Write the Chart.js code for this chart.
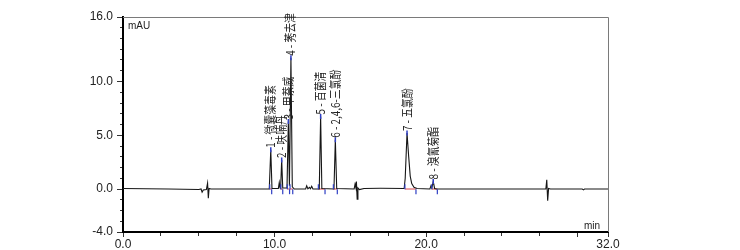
<!DOCTYPE html>
<html>
<head>
<meta charset="utf-8">
<script src="https://cdn.jsdelivr.net/npm/chart.js@4"></script>
<style>
html,body{margin:0;padding:0;background:#fff;}
#wrap{width:740px;height:250px;position:relative;}
</style>
</head>
<body>
<div id="wrap"><canvas id="c" width="740" height="250"></canvas></div>
<script>
// ---- chromatogram trace (time in min, signal in mAU) ----
const traceTimes = [0, 3.0, 5.0, 5.15, 5.22, 5.3, 5.5, 5.58, 5.63, 5.68, 5.8,
  9.65, 9.75, 9.83, 10.25, 10.31, 10.36, 10.4, 10.47, 10.54, 10.82, 10.91, 10.98, 11.0, 11.08, 11.17, 11.3,
  12.05, 12.12, 12.2, 12.3, 12.37, 12.45, 12.53, 12.95, 13.04, 13.12, 13.92, 14.01, 14.1,
  15.25, 15.31, 15.35, 15.4, 15.45, 15.5, 15.6, 15.9, 17.0,
  18.55, 18.62, 18.74, 18.85, 18.95, 19.05, 19.2, 19.4,
  20.25, 20.32, 20.38, 20.47, 20.56, 20.7,
  27.9, 27.96, 28.02, 28.08, 28.2, 30.3, 30.38, 30.45, 32];
const traceValues = [0.05, 0.0, -0.05, 0.0, -0.3, -0.1, -0.05, 0.55, -0.85, 0.05, 0.0,
  0.0, 3.65, 0.05, 0.05, 0.6, 0.1, 0.05, 2.7, 0.1, 0.1, 6.28, 0.3, 0.3, 12.2, 0.2, 0.0,
  0.0, 0.3, 0.02, 0.15, 0.02, 0.25, 0.0, 0.0, 6.75, 0.05, 0.0, 4.58, 0.05,
  0.0, 0.45, 0.2, 0.7, -0.95, 0.1, -0.05, 0.05, 0.07,
  0.05, 1.0, 5.2, 3.0, 1.2, 0.5, 0.15, 0.05,
  0.0, 0.3, 0.1, 0.7, 0.05, 0.0,
  0.0, 0.85, -1.08, 0.05, 0.0, 0.0, -0.08, 0.0, 0.0];

// ---- identified peaks ----
const peakNumbers = [1, 2, 3, 4, 5, 6, 7, 8];
const peakNames = ["微囊藻毒素", "呋喃丹", "甲萘威", "莠去津", "百菌清", "2,4,6-三氯酚", "五氯酚", "溴氰菊酯"];
const peakTimes = [9.75, 10.47, 10.91, 11.08, 13.04, 14.01, 18.74, 20.47];
const peakHeights = [3.65, 2.7, 6.28, 12.2, 6.75, 4.58, 5.2, 0.7];
const peakStarts = [9.68, 10.41, 10.84, 11.02, 12.89, 13.88, 18.6, 20.37];
const peakEnds = [9.81, 10.54, 10.99, 11.2, 13.33, 14.14, 19.33, 20.74];

// ---- axes ----
const xTickValues = [0, 2.5, 5, 7.5, 10, 12.5, 15, 17.5, 20, 22.5, 25, 27.5, 30, 32];
const xLabelValues = [0, 10, 20, 32];
const xMajorValues = [0, 10, 20, 30, 32];
const yTickValues = [-4, -3, -2, -1, 0, 1, 2, 3, 4, 5, 6, 7, 8, 9, 10, 11, 12, 13, 14, 15, 16];
const yLabelValues = [-4, 0, 5, 10, 16];
const yUnit = "mAU";
const xUnit = "min";

const traceData = traceTimes.map((t, i) => ({x: t, y: traceValues[i]}));
const apexData = peakTimes.map((t, i) => ({x: t, y: peakHeights[i]}));
const startData = peakStarts.map(t => ({x: t, y: 0.2}));
const endData = peakEnds.map(t => ({x: t, y: -0.25}));
const baseData = [];
peakStarts.forEach((t, i) => { baseData.push({x: t, y: 0}); baseData.push({x: peakEnds[i], y: 0}); baseData.push({x: peakEnds[i] + 0.001, y: null}); });

const BLUE = '#2f3fc4';
const RED = '#d8474a';

const framePlugin = {
  id: 'frame',
  beforeDatasetsDraw(chart) {
    const {ctx, chartArea: a} = chart;
    ctx.save();
    ctx.strokeStyle = '#7a7a7a';
    ctx.lineWidth = 1;
    ctx.beginPath();
    ctx.moveTo(a.left, a.top + 0.5);
    ctx.lineTo(a.right + 0.5, a.top + 0.5);
    ctx.lineTo(a.right + 0.5, a.bottom);
    ctx.stroke();
    ctx.fillStyle = '#222';
    ctx.font = '10px "Liberation Sans", Arial, sans-serif';
    ctx.textBaseline = 'middle';
    ctx.textAlign = 'left';
    ctx.fillText(yUnit, a.left + 5, a.top + 9);
    ctx.textAlign = 'right';
    ctx.fillText(xUnit, a.right - 8, a.bottom - 6);
    ctx.restore();
  }
};

const labelPlugin = {
  id: 'peakLabels',
  afterDatasetsDraw(chart) {
    const {ctx} = chart;
    const xs = chart.scales.x, ys = chart.scales.y;
    ctx.save();
    ctx.fillStyle = '#222';
    ctx.font = '12px "Noto Sans CJK SC", sans-serif';
    ctx.textBaseline = 'middle';
    ctx.textAlign = 'left';
    peakNumbers.forEach((n, i) => {
      const px = xs.getPixelForValue(peakTimes[i]);
      const py = ys.getPixelForValue(peakHeights[i]) - 2;
      ctx.save();
      ctx.translate(px, py);
      ctx.rotate(-Math.PI / 2);
      ctx.scale(0.82, 1);
      ctx.fillText(n + ' - ' + peakNames[i], 0, 0);
      ctx.restore();
    });
    ctx.restore();
  }
};

new Chart(document.getElementById('c'), {
  type: 'line',
  data: {
    datasets: [
      {data: baseData, borderColor: RED, borderWidth: 1, pointRadius: 0, spanGaps: false, order: 3},
      {data: traceData, borderColor: '#161616', borderWidth: 1.1, pointRadius: 0, tension: 0, order: 2},
      {data: apexData, showLine: false, pointStyle: 'line', rotation: 90, pointRadius: 2.5, borderColor: BLUE, borderWidth: 1.5, order: 1},
      {data: startData, showLine: false, pointStyle: 'line', rotation: 90, pointRadius: 2.5, borderColor: BLUE, borderWidth: 1.2, order: 1},
      {data: endData, showLine: false, pointStyle: 'line', rotation: 90, pointRadius: 2.5, borderColor: BLUE, borderWidth: 1.2, order: 1}
    ]
  },
  options: {
    responsive: false,
    animation: false,
    events: [],
    layout: {padding: {left: 0, top: 17, right: 132, bottom: 0}},
    plugins: {legend: {display: false}, tooltip: {enabled: false}},
    scales: {
      x: {
        type: 'linear', min: 0, max: 32, position: 'bottom',
        afterBuildTicks: s => { s.ticks = xTickValues.map(v => ({value: v})); },
        afterFit: s => { s.height = 18; },
        ticks: {
          autoSkip: false, maxRotation: 0, padding: 0, color: '#222',
          font: {family: '"Liberation Sans", Arial, sans-serif', size: 12},
          callback: v => xLabelValues.includes(v) ? v.toFixed(1) : ''
        },
        grid: {
          drawOnChartArea: false, drawTicks: true, tickLength: 5, tickColor: '#333', tickWidth: 1,
          tickBorderDash: c => (c.tick && xMajorValues.includes(c.tick.value)) ? [] : [3, 6]
        },
        border: {display: true, color: '#000', width: 2}
      },
      y: {
        type: 'linear', min: -4, max: 16, position: 'left',
        afterBuildTicks: s => { s.ticks = yTickValues.map(v => ({value: v})); },
        afterFit: s => { s.width = 123; },
        ticks: {
          autoSkip: false, padding: 4, color: '#222',
          font: {family: '"Liberation Sans", Arial, sans-serif', size: 12},
          callback: v => yLabelValues.includes(v) ? v.toFixed(1) : ''
        },
        grid: {
          drawOnChartArea: false, drawTicks: true, tickLength: 6, tickColor: '#333', tickWidth: 1,
          tickBorderDash: c => (c.tick && yLabelValues.includes(c.tick.value)) ? [] : [3, 3],
          tickBorderDashOffset: c => (c.tick && yLabelValues.includes(c.tick.value)) ? 0 : 3
        },
        border: {display: true, color: '#000', width: 2}
      }
    }
  },
  plugins: [framePlugin, labelPlugin]
});
</script>
</body>
</html>
